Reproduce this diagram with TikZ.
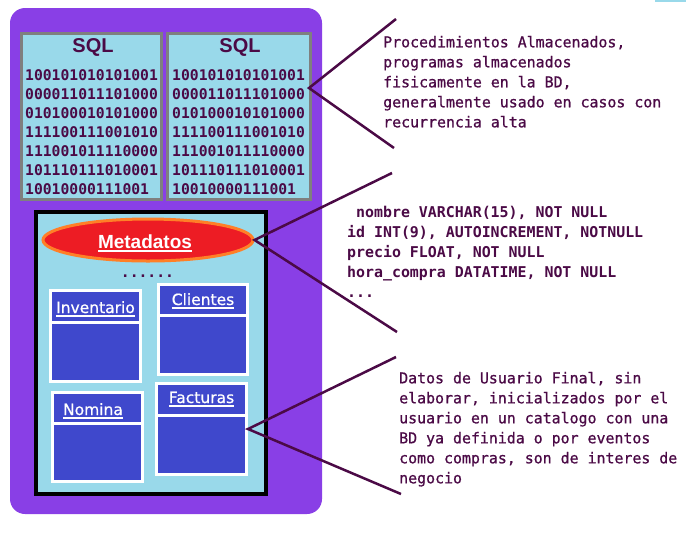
\documentclass[tikz,border=0pt]{standalone}
\usepackage{fontspec}
\usepackage{tikz}
\usetikzlibrary{shapes.geometric,positioning}
\newfontfamily\codefont{DejaVu Sans Mono}
\newfontfamily\notafont[FakeBold=0.8]{DejaVu Sans Mono}
\newfontfamily\headfont{Liberation Sans}
\newfontfamily\tabfont[FakeBold=0.6]{DejaVu Sans}
\definecolor{fondo}{RGB}{137,63,230}
\definecolor{celeste}{RGB}{153,217,234}
\definecolor{indigo}{RGB}{63,72,204}
\definecolor{rojo}{RGB}{237,28,36}
\definecolor{naranja}{RGB}{255,127,39}
\definecolor{tinta}{RGB}{75,10,70}
\definecolor{gris}{RGB}{127,127,127}
\newcommand\subr[1]{\leavevmode\setbox0\hbox{#1}\rlap{\rule[-3.6pt]{\wd0}{1.5pt}}\box0}

\begin{document}
\begin{tikzpicture}[x=1pt,y=-1pt,
  panel/.style={draw=gris,line width=3pt,fill=celeste,minimum height=166pt,inner sep=0pt},
  tabla/.style={draw=white,line width=3pt,fill=indigo,minimum width=90pt,minimum height=91pt,inner sep=0pt},
  titulo/.style={text=white,font=\tabfont\fontsize{15.5}{18}\selectfont,anchor=base,inner sep=0pt},
  bits/.style={text=tinta,font=\codefont\bfseries\fontsize{14.7}{19}\selectfont,align=left,anchor=north west,inner sep=0pt},
  nota/.style={text=tinta,font=\notafont\fontsize{14.9}{20}\selectfont,align=left,anchor=north west,inner sep=0pt},
  guia/.style={draw=tinta,line width=2.5pt}]
\useasboundingbox (0,0) rectangle (690,542);
\fill[celeste] (655,0) rectangle (686,1.5);

\node[fill=fondo,rounded corners=15pt,minimum width=312pt,minimum height=506pt,inner sep=0pt] (marco) at (166,261) {};

\node[panel,minimum width=140pt] (sql1) at (91.5,116.5) {};
\node[panel,minimum width=143pt] (sql2) at (239,116.5) {};
\node[text=tinta,font=\headfont\bfseries\fontsize{20}{22}\selectfont,anchor=base,inner sep=0pt] (sqltit1) at (93,52) {SQL};
\node[text=tinta,font=\headfont\bfseries\fontsize{20}{22}\selectfont,anchor=base,inner sep=0pt] (sqltit2) at (240,52) {SQL};
\node[bits] (bits1) at (25,69) {100101010101001\\000011011101000\\010100010101000\\111100111001010\\111001011110000\\101110111010001\\10010000111001};
\node[bits] (bits2) at (172,69) {100101010101001\\000011011101000\\010100010101000\\111100111001010\\111001011110000\\101110111010001\\10010000111001};

\node[draw=black,line width=4pt,fill=celeste,minimum width=230pt,minimum height=282pt,inner sep=0pt] (bd) at (151,353) {};

\node[ellipse,draw=naranja,line width=3pt,fill=rojo,minimum width=210pt,minimum height=42pt,inner sep=0pt] (meta) at (148,240) {};
\node[text=white,font=\headfont\bfseries\fontsize{19}{22}\selectfont,anchor=base,inner sep=0pt] (metatxt) at (145,248) {\subr{Metadatos}};
\node[text=tinta,font=\codefont\bfseries\fontsize{14.7}{19}\selectfont,anchor=base,inner sep=0pt] (puntos) at (147.5,277) {......};

\node[tabla] (inventario) at (95.5,336) {};
\node[tabla,minimum width=89pt,minimum height=90pt] (clientes) at (203,329.5) {};
\node[tabla,minimum height=89pt] (nomina) at (97.5,437) {};
\node[tabla] (facturas) at (201.5,429) {};
\draw[white,line width=3pt] (inventario.west |- 0,322) -- (inventario.east |- 0,322);
\draw[white,line width=3pt] (clientes.west |- 0,315) -- (clientes.east |- 0,315);
\draw[white,line width=3pt] (nomina.west |- 0,423) -- (nomina.east |- 0,423);
\draw[white,line width=3pt] (facturas.west |- 0,415) -- (facturas.east |- 0,415);
\node[titulo] (invtit) at (95.5,313) {\subr{Inventario}};
\node[titulo] (clitit) at (203,305) {\subr{Clientes}};
\node[titulo] (nomtit) at (93,415) {\subr{Nomina}};
\node[titulo] (factit) at (201.5,403) {\subr{Facturas}};

\node[nota] (nota1) at (383,35.7) {Procedimientos Almacenados,\\programas almacenados\\fisicamente en la BD,\\generalmente usado en casos con\\recurrencia alta};
\node[nota,font=\codefont\bfseries\fontsize{14.9}{20}\selectfont] (nota2) at (347,205.7) {\hphantom{n}nombre VARCHAR(15), NOT NULL\\id INT(9), AUTOINCREMENT, NOTNULL\\precio FLOAT, NOT NULL\\hora\_compra DATATIME, NOT NULL\\...};
\node[nota] (nota3) at (399,371.7) {Datos de Usuario Final, sin\\elaborar, inicializados por el\\usuario en un catalogo con una\\BD ya definida o por eventos\\como compras, son de interes de\\negocio};

\coordinate (sqlpunta) at (309,88);
\coordinate (n1a) at (396,19);
\coordinate (n1b) at (394,148);
\coordinate (n2a) at (392,173);
\coordinate (n2b) at (397,332);
\coordinate (n3a) at (396,357);
\coordinate (n3b) at (401,494);
\draw[guia] (n1a) -- (sqlpunta) -- (n1b);
\draw[guia] (n2a) -- (meta.east) -- (n2b);
\draw[guia] (n3a) -- (facturas.east) -- (n3b);
\end{tikzpicture}
\end{document}
